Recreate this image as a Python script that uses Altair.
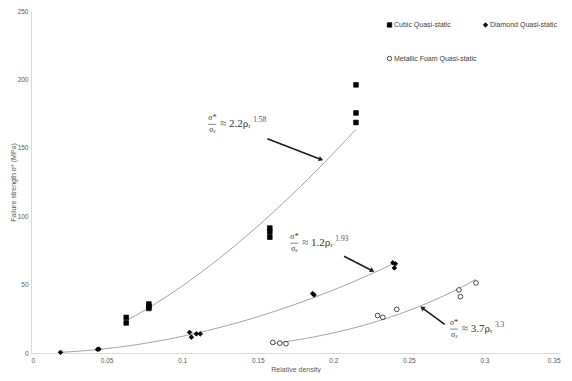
import altair as alt
import pandas as pd

# ---- data ----
series_names = ["Cubic Quasi-static", "Diamond Quasi-static", "Metallic Foam Quasi-static"]

cubic_x = [0.063, 0.063, 0.078, 0.078, 0.078, 0.158, 0.158, 0.158, 0.215, 0.215, 0.215]
cubic_y = [26.0, 22.0, 35.8, 34.0, 32.6, 91.3, 88.5, 84.7, 196.0, 175.5, 168.5]

diamond_x = [0.0195, 0.044, 0.045, 0.1049, 0.1061, 0.1094, 0.112, 0.1863, 0.1873, 0.2394, 0.2411, 0.2404]
diamond_y = [0.5, 2.6, 2.9, 15.1, 11.6, 14.0, 14.0, 43.5, 42.4, 65.9, 65.2, 62.2]

foam_x = [0.160, 0.1646, 0.1687, 0.2293, 0.2328, 0.242, 0.2831, 0.2841, 0.2944]
foam_y = [7.7, 7.2, 6.8, 27.4, 26.1, 31.9, 46.1, 41.2, 51.2]

x_ticks = [0, 0.05, 0.1, 0.15, 0.2, 0.25, 0.3, 0.35]
y_ticks = [0, 50, 100, 150, 200, 250]

# equation annotations (anchor = centre of fraction bar)
eq_x = [0.1199, 0.1742, 0.2798]
eq_y = [167.1, 80.3, 17.5]
eq_coef = ["≈ 2.2ρᵣ", "≈ 1.2ρᵣ", "≈ 3.7ρᵣ"]
eq_exp = ["1.58", "1.93", "3.3"]

# arrows (tail -> head)
arrow_x0 = [0.1564, 0.2071, 0.2737]
arrow_y0 = [156.6, 70.7, 20.9]
arrow_x1 = [0.1919, 0.2258, 0.2588]
arrow_y1 = [141.5, 60.1, 33.0]
arrow_angle = [111, 118, 307]

# ---- tables ----
rows = []
for name, xs_, ys_ in zip(series_names, [cubic_x, diamond_x, foam_x], [cubic_y, diamond_y, foam_y]):
    for a, b in zip(xs_, ys_):
        rows.append({"series": name, "x": a, "y": b})
df = pd.DataFrame(rows)

eq = pd.DataFrame({"x": eq_x, "y": eq_y, "coef": eq_coef, "exp": eq_exp,
                   "num": ["σ*"] * 3, "den": ["σₛ"] * 3})
arrows = pd.DataFrame({"x0": arrow_x0, "y0": arrow_y0, "x1": arrow_x1, "y1": arrow_y1,
                       "angle": arrow_angle})

W, H = 529, 342
xs = alt.Scale(domain=[0, 0.35], nice=False, zero=False)
ys = alt.Scale(domain=[0, 250], nice=False)

axis_common = dict(domainColor="#d9d9d9", domainWidth=1, ticks=False, grid=False,
                   labelFont="Liberation Sans", labelFontSize=6.5, labelColor="#595959",
                   titleFont="Liberation Sans", titleFontSize=7, titleColor="#595959",
                   titleFontWeight="normal")

x_enc = alt.X("x:Q", scale=xs, axis=alt.Axis(values=x_ticks, format="~g", title="Relative density",
                                             labelPadding=4, titlePadding=2, **axis_common))
y_enc = alt.Y("y:Q", scale=ys, axis=alt.Axis(values=y_ticks, title="Failure strength σ* (MPa)",
                                             labelPadding=3, titlePadding=1, **axis_common))

legend = alt.Legend(title=None, orient="none", legendX=355, legendY=10, columns=2,
                    direction="horizontal", rowPadding=25, columnPadding=4,
                    labelFont="Liberation Sans", labelFontSize=7, labelColor="#404040",
                    symbolSize=20, symbolStrokeWidth=0.7, labelOffset=1)

trend = alt.Chart(df).transform_regression(
    "x", "y", method="pow", groupby=["series"]
).mark_line(color="#8c8c8c", strokeWidth=0.8).encode(
    x=alt.X("x:Q", scale=xs), y=alt.Y("y:Q", scale=ys), detail="series:N"
)

points = alt.Chart(df).mark_point(strokeWidth=0.7, size=22, opacity=1).encode(
    x=x_enc, y=y_enc,
    shape=alt.Shape("series:N", scale=alt.Scale(domain=series_names, range=["square", "diamond", "circle"]),
                    legend=legend),
    fill=alt.Fill("series:N", scale=alt.Scale(domain=series_names, range=["black", "black", "white"]),
                  legend=legend),
    stroke=alt.Stroke("series:N", scale=alt.Scale(domain=series_names, range=["black", "black", "black"]),
                      legend=legend),
)

arrow_lines = alt.Chart(arrows).mark_rule(color="#1a1a1a", strokeWidth=1.5).encode(
    x=alt.X("x0:Q", scale=xs), y=alt.Y("y0:Q", scale=ys), x2="x1:Q", y2="y1:Q"
)
arrow_heads = alt.Chart(arrows).mark_point(shape="triangle-up", filled=True, color="#1a1a1a",
                                           size=28, opacity=1).encode(
    x=alt.X("x1:Q", scale=xs), y=alt.Y("y1:Q", scale=ys), angle=alt.Angle("angle:Q", scale=None)
)

serif = "Liberation Serif"
num = alt.Chart(eq).mark_text(font=serif, fontSize=8, fontStyle="italic", dy=-6, color="#333333").encode(
    x=alt.X("x:Q", scale=xs), y=alt.Y("y:Q", scale=ys), text="num:N")
den = alt.Chart(eq).mark_text(font=serif, fontSize=8, fontStyle="italic", dy=6, color="#333333").encode(
    x=alt.X("x:Q", scale=xs), y=alt.Y("y:Q", scale=ys), text="den:N")
bar = alt.Chart(eq).mark_rule(color="#555555", strokeWidth=0.7, xOffset=-4, x2Offset=4).encode(
    x=alt.X("x:Q", scale=xs), x2="x:Q", y=alt.Y("y:Q", scale=ys))
coef = alt.Chart(eq).mark_text(font=serif, fontSize=11, align="left", dx=8, color="#333333").encode(
    x=alt.X("x:Q", scale=xs), y=alt.Y("y:Q", scale=ys), text="coef:N")
expo = alt.Chart(eq).mark_text(font=serif, fontSize=7.5, align="left", dx=41, dy=-4, color="#555555").encode(
    x=alt.X("x:Q", scale=xs), y=alt.Y("y:Q", scale=ys), text="exp:N")

chart = alt.layer(trend, points, arrow_lines, arrow_heads, bar, num, den, coef, expo).properties(
    width=W, height=H,
    autosize=alt.AutoSizeParams(type="none"),
    padding={"left": 23, "top": 3, "right": 4, "bottom": 20},
).configure_view(stroke=None)

chart.save("out.html", embed_options={"renderer": "svg", "actions": False})
